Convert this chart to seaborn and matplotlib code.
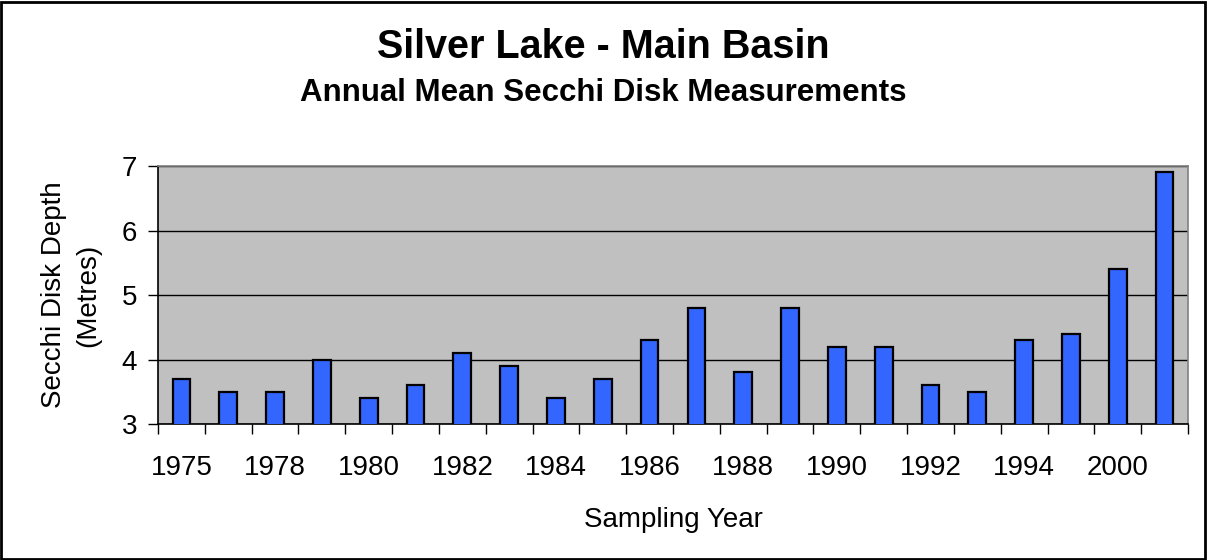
import matplotlib
matplotlib.use("Agg")
import matplotlib.pyplot as plt
import matplotlib.patches as mpatches
import pandas as pd
import seaborn as sns

years = ["1975", "1977", "1978", "1979", "1980", "1981", "1982", "1983",
         "1984", "1985", "1986", "1987", "1988", "1989", "1990", "1991",
         "1992", "1993", "1994", "1996", "2000", "2001"]
secchi_depth = [3.7, 3.5, 3.5, 4.0, 3.4, 3.6, 4.1, 3.9, 3.4, 3.7, 4.3,
                4.8, 3.8, 4.8, 4.2, 4.2, 3.6, 3.5, 4.3, 4.4, 5.4, 6.9]
shown_labels = ["1975", "1978", "1980", "1982", "1984", "1986", "1988",
                "1990", "1992", "1994", "2000"]

df = pd.DataFrame({"year": years, "depth": secchi_depth})

sns.set_style("white")
plt.rcParams['font.family'] = ['Liberation Sans', 'DejaVu Sans']
plt.rcParams['text.color'] = 'black'
plt.rcParams['axes.labelcolor'] = 'black'
plt.rcParams['xtick.color'] = 'black'
plt.rcParams['ytick.color'] = 'black'

fig = plt.figure(figsize=(12.07, 5.6), dpi=100)
ax = fig.add_axes([158 / 1207, 136 / 560, 1030 / 1207, 258 / 560])

sns.barplot(data=df, x="year", y="depth", order=years, color="#3366FF",
            width=0.38, edgecolor="black", linewidth=1.6, saturation=1,
            ax=ax, zorder=3)

ax.set_facecolor("#C0C0C0")
ax.set_ylim(3, 7)
ax.set_xlim(-0.5, len(years) - 0.5)
ax.set_yticks([3, 4, 5, 6, 7])
ax.yaxis.grid(True, color="black", linewidth=1)
ax.set_axisbelow(True)

# ticks at category boundaries, labels on every other category
ax.set_xticks([i - 0.5 for i in range(len(years) + 1)])
ax.set_xticklabels([])
ax.set_xticks([years.index(y) for y in shown_labels], minor=True)
ax.set_xticklabels(shown_labels, minor=True)
ax.tick_params(axis="x", which="major", direction="out", length=7, width=1,
               bottom=True)
ax.tick_params(axis="x", which="minor", length=0, pad=22, labelsize=20)
ax.tick_params(axis="y", direction="out", length=7, width=1,
               left=True, labelsize=20, pad=8)

for side in ["left", "bottom"]:
    ax.spines[side].set_color("black")
    ax.spines[side].set_linewidth(1.2)
for side in ["top", "right"]:
    ax.spines[side].set_color("#808080")
    ax.spines[side].set_linewidth(1.2)

ax.set_xlabel("Sampling Year", fontsize=20, labelpad=19)
ax.set_ylabel("Secchi Disk Depth\n(Metres)", fontsize=20, labelpad=15,
              linespacing=1.4)

fig.text(0.5, 1 - 47 / 560, "Silver Lake - Main Basin", ha="center",
         va="center", fontsize=28.5, fontweight="bold")
fig.text(0.5, 1 - 93 / 560, "Annual Mean Secchi Disk Measurements",
         ha="center", va="center", fontsize=22.5, fontweight="bold")

fig.patches.append(mpatches.Rectangle((0.001, 0.002), 0.997, 0.995,
                                      transform=fig.transFigure, fill=False,
                                      edgecolor="black", linewidth=2))

fig.savefig("out.png", dpi=100)
